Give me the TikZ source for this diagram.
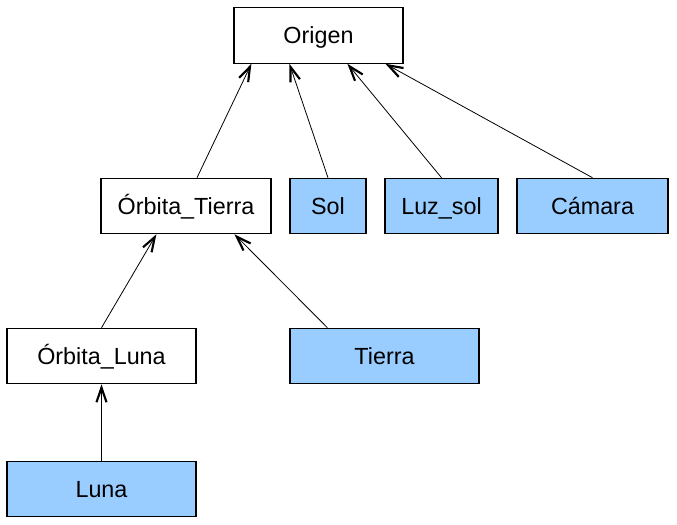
\documentclass[tikz,border=0pt]{standalone}
\usepackage{fontspec}
\setmainfont{Liberation Sans}
\usepackage{xcolor}
\usepackage{tikz}
\usetikzlibrary{arrows.meta,calc}
\definecolor{leafblue}{HTML}{99CCFF}

\begin{document}
\begin{tikzpicture}[x=0.75pt, y=-0.75pt, font=\fontsize{17.5pt}{20pt}\selectfont,
  box/.style={draw, line width=0.9pt, fill=white, inner sep=0pt, minimum height=41.5pt,
    text height=14pt, text depth=2pt},
  leaf/.style={box, fill=leafblue},
  link/.style={line width=0.6pt, -{Straight Barb[length=11pt, width=7.5pt, line width=1.6pt]}}]
\useasboundingbox (0,0) rectangle (677,524);
\node[box, minimum width=126.75pt] (origen) at (318.5,35.5) {Origen};
\node[box, minimum width=127.5pt] (orbT) at (186,206) {Órbita\_Tierra};
\node[leaf, minimum width=57pt] (sol) at (328,206) {Sol};
\node[leaf, minimum width=84.75pt] (luz) at (441.5,206) {Luz\_sol};
\node[leaf, minimum width=113.25pt] (cam) at (592.5,206) {Cámara};
\node[box, minimum width=141.75pt] (orbL) at (101.5,356) {Órbita\_Luna};
\node[leaf, minimum width=141.75pt] (tierra) at (384.5,356) {Tierra};
\node[leaf, minimum width=141.75pt] (luna) at (101.5,489) {Luna};
% links to the parent
\draw[link] ($(orbT.north)+(11,0)$) -- ($(origen.south west)+(18,0)$);
\draw[link] (sol.north) -- ($(origen.south west)+(56,0)$);
\draw[link] (luz.north) -- ($(origen.south west)+(114,0)$);
\draw[link] (cam.north) -- ($(origen.south west)+(152,0)$);
\draw[link] (orbL.north) -- ($(orbT.south west)+(56,0)$);
\draw[link] ($(tierra.north west)+(38,0)$) -- ($(orbT.south west)+(134,0)$);
\draw[link] (luna.north) -- (orbL.south);
\end{tikzpicture}
\end{document}
